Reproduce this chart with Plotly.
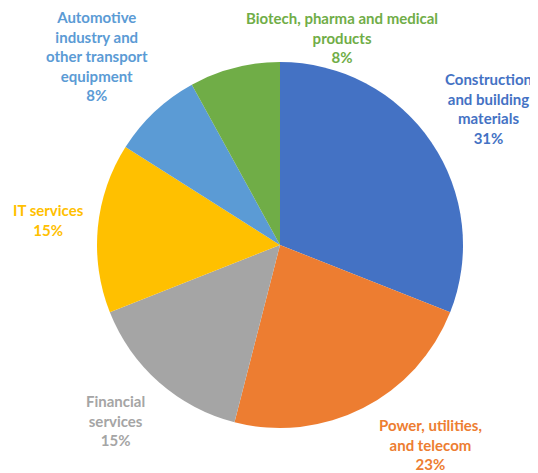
import plotly.graph_objects as go

# data
sectors = [
    "Construction and building materials",
    "Power, utilities, and telecom",
    "Financial services",
    "IT services",
    "Automotive industry and other transport equipment",
    "Biotech, pharma and medical products",
]
shares = [31, 23, 15, 15, 8, 8]
label_lines = [
    "Construction<br>and building<br>materials",
    "Power, utilities,<br>and telecom",
    "Financial<br>services",
    "IT services",
    "Automotive<br>industry and<br>other transport<br>equipment",
    "Biotech, pharma and medical<br>products",
]

COLORS = ["#4472C4", "#ED7D31", "#A5A5A5", "#FFC000", "#5B9BD5", "#70AD47"]

# page body has an 8px margin, so draw on a slightly smaller canvas
OFF = 8
W, H = 538 - OFF, 473 - OFF
# label block centres in screen pixels (x, y from top)
LABEL_POS = [(488, 108), (430, 444), (115, 420), (48, 220), (97, 56), (342, 38)]
cx, cy, r = 280 - OFF, 245 - OFF, 183

fig = go.Figure(go.Pie(
    labels=sectors,
    values=shares,
    sort=False,
    direction="clockwise",
    rotation=0,
    marker=dict(colors=COLORS, line=dict(width=0)),
    textinfo="none",
    hoverinfo="label+percent",
    domain=dict(x=[(cx - r) / W, (cx + r) / W], y=[(H - cy - r) / H, (H - cy + r) / H]),
))

annotations = []
for text, val, col, (px, py) in zip(label_lines, shares, COLORS, LABEL_POS):
    annotations.append(dict(
        text=f"<b>{text}<br>{val}%</b>",
        x=(px - OFF) / W, y=1 - (py - OFF) / H,
        xref="paper", yref="paper",
        xanchor="center", yanchor="middle",
        showarrow=False,
        align="center",
        borderpad=0,
        font=dict(family="Lato, Open Sans, sans-serif", size=15, color=col),
    ))

fig.update_layout(
    width=W, height=H,
    margin=dict(t=0, b=0, l=0, r=0),
    paper_bgcolor="white",
    plot_bgcolor="white",
    showlegend=False,
    annotations=annotations,
)

fig.write_html("out.html")
